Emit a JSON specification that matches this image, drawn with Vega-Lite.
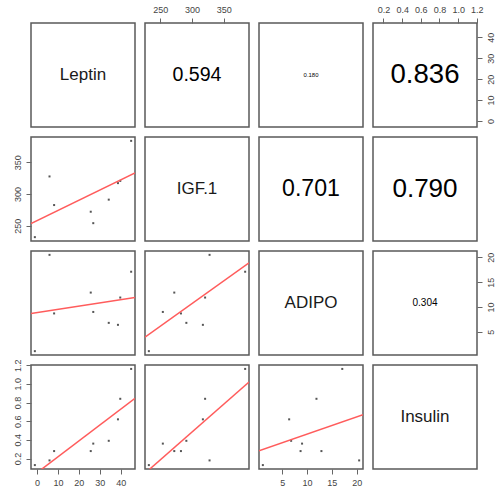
{
  "$schema": "https://vega.github.io/schema/vega-lite/v6.json",
  "padding": {"left": 12, "top": 4, "right": 5, "bottom": 5},
  "background": "white",
  "datasets": {
    "d": [
      {"Leptin": -1, "IGF": 232, "ADIPO": 1.1, "Insulin": 0.13},
      {"Leptin": 6, "IGF": 327.5, "ADIPO": 20.5, "Insulin": 0.18},
      {"Leptin": 8.2, "IGF": 282.5, "ADIPO": 8.7, "Insulin": 0.28},
      {"Leptin": 25.7, "IGF": 272, "ADIPO": 12.9, "Insulin": 0.28},
      {"Leptin": 26.9, "IGF": 254, "ADIPO": 9.0, "Insulin": 0.36},
      {"Leptin": 34.3, "IGF": 291, "ADIPO": 6.8, "Insulin": 0.39},
      {"Leptin": 38.7, "IGF": 317, "ADIPO": 6.4, "Insulin": 0.62},
      {"Leptin": 39.8, "IGF": 320.5, "ADIPO": 11.9, "Insulin": 0.84},
      {"Leptin": 45, "IGF": 383.5, "ADIPO": 17.1, "Insulin": 1.16}
    ]
  },
  "columns": 4,
  "spacing": 10,
  "bounds": "flush",
  "concat": [
    {"width": 104, "height": 104, "layer": [
      {"data": {"name": "d"}, "mark": {"type": "point", "opacity": 0},
       "encoding": {"x": {"field": "Leptin", "type": "quantitative", "axis": null}}},
      {"data": {"values": [{"v": "Leptin"}]},
       "mark": {"type": "text", "fontSize": 17, "font": "Liberation Sans", "color": "#1a1a1a"},
       "encoding": {"text": {"field": "v", "type": "nominal"}}}
    ]},
    {"width": 104, "height": 104, "layer": [
      {"data": {"name": "d"}, "mark": {"type": "point", "opacity": 0},
       "encoding": {"x": {"field": "IGF", "type": "quantitative", "scale": {"domain": [225.94, 389.56], "nice": false, "zero": false}, "axis": {"orient": "top", "values": [250, 300, 350]}}}},
      {"data": {"values": [{"r": 0.594}]}, "mark": {"type": "text", "font": "Liberation Sans", "color": "#000"},
       "encoding": {"text": {"field": "r", "type": "quantitative", "format": ".3f"}, "size": {"field": "r", "type": "quantitative", "scale": {"domain": [0, 1], "range": [0, 33]}, "legend": null}}}
    ]},
    {"width": 104, "height": 104, "layer": [
      {"data": {"name": "d"}, "mark": {"type": "point", "opacity": 0},
       "encoding": {"x": {"field": "ADIPO", "type": "quantitative", "axis": null}}},
      {"data": {"values": [{"r": 0.18}]}, "mark": {"type": "text", "font": "Liberation Sans", "color": "#000"},
       "encoding": {"text": {"field": "r", "type": "quantitative", "format": ".3f"}, "size": {"field": "r", "type": "quantitative", "scale": {"domain": [0, 1], "range": [0, 33]}, "legend": null}}}
    ]},
    {"width": 104, "height": 104, "layer": [
      {"data": {"name": "d"}, "mark": {"type": "point", "opacity": 0},
       "encoding": {
         "x": {"field": "Insulin", "type": "quantitative", "scale": {"domain": [0.088, 1.202], "nice": false, "zero": false}, "axis": {"orient": "top", "values": [0.2, 0.4, 0.6, 0.8, 1.0, 1.2], "format": ".1f"}},
         "y": {"field": "Leptin", "type": "quantitative", "scale": {"domain": [-2.84, 46.84], "nice": false, "zero": false}, "axis": {"orient": "right", "values": [0, 10, 20, 30, 40], "labelAngle": -90}}}},
      {"data": {"values": [{"r": 0.836}]}, "mark": {"type": "text", "font": "Liberation Sans", "color": "#000"},
       "encoding": {"text": {"field": "r", "type": "quantitative", "format": ".3f"}, "size": {"field": "r", "type": "quantitative", "scale": {"domain": [0, 1], "range": [0, 33]}, "legend": null}}}
    ]},

    {"width": 104, "height": 104, "data": {"name": "d"}, "layer": [
      {"mark": {"type": "point", "filled": true, "shape": "square", "size": 4, "color": "#555", "opacity": 1},
       "encoding": {
         "x": {"field": "Leptin", "type": "quantitative", "scale": {"domain": [-2.84, 46.84], "nice": false, "zero": false}, "axis": null},
         "y": {"field": "IGF", "type": "quantitative", "scale": {"domain": [225.94, 389.56], "nice": false, "zero": false}, "axis": {"orient": "left", "values": [250, 300, 350], "labelAngle": -90}}}},
      {"transform": [{"regression": "IGF", "on": "Leptin", "extent": [-2.84, 46.84]}],
       "mark": {"type": "line", "color": "#ff5c5c", "strokeWidth": 1.5, "clip": true},
       "encoding": {"x": {"field": "Leptin", "type": "quantitative", "axis": null}, "y": {"field": "IGF", "type": "quantitative", "axis": {"orient": "left", "values": [250, 300, 350], "labelAngle": -90}}}}
    ]},
    {"width": 104, "height": 104, "layer": [
      {"data": {"name": "d"}, "mark": {"type": "point", "opacity": 0},
       "encoding": {"x": {"field": "IGF", "type": "quantitative", "axis": null}}},
      {"data": {"values": [{"v": "IGF.1"}]},
       "mark": {"type": "text", "fontSize": 17, "font": "Liberation Sans", "color": "#1a1a1a"},
       "encoding": {"text": {"field": "v", "type": "nominal"}}}
    ]},
    {"width": 104, "height": 104, "layer": [
      {"data": {"name": "d"}, "mark": {"type": "point", "opacity": 0},
       "encoding": {"x": {"field": "ADIPO", "type": "quantitative", "axis": null}}},
      {"data": {"values": [{"r": 0.701}]}, "mark": {"type": "text", "font": "Liberation Sans", "color": "#000"},
       "encoding": {"text": {"field": "r", "type": "quantitative", "format": ".3f"}, "size": {"field": "r", "type": "quantitative", "scale": {"domain": [0, 1], "range": [0, 33]}, "legend": null}}}
    ]},
    {"width": 104, "height": 104, "layer": [
      {"data": {"name": "d"}, "mark": {"type": "point", "opacity": 0},
       "encoding": {"x": {"field": "Insulin", "type": "quantitative", "axis": null}}},
      {"data": {"values": [{"r": 0.79}]}, "mark": {"type": "text", "font": "Liberation Sans", "color": "#000"},
       "encoding": {"text": {"field": "r", "type": "quantitative", "format": ".3f"}, "size": {"field": "r", "type": "quantitative", "scale": {"domain": [0, 1], "range": [0, 33]}, "legend": null}}}
    ]},

    {"width": 104, "height": 104, "data": {"name": "d"}, "layer": [
      {"mark": {"type": "point", "filled": true, "shape": "square", "size": 4, "color": "#555", "opacity": 1},
       "encoding": {
         "x": {"field": "Leptin", "type": "quantitative", "scale": {"domain": [-2.84, 46.84], "nice": false, "zero": false}, "axis": null},
         "y": {"field": "ADIPO", "type": "quantitative", "scale": {"domain": [0.324, 21.276], "nice": false, "zero": false}, "axis": null}}},
      {"transform": [{"regression": "ADIPO", "on": "Leptin", "extent": [-2.84, 46.84]}],
       "mark": {"type": "line", "color": "#ff5c5c", "strokeWidth": 1.5, "clip": true},
       "encoding": {"x": {"field": "Leptin", "type": "quantitative", "axis": null}, "y": {"field": "ADIPO", "type": "quantitative", "axis": null}}}
    ]},
    {"width": 104, "height": 104, "data": {"name": "d"}, "layer": [
      {"mark": {"type": "point", "filled": true, "shape": "square", "size": 4, "color": "#555", "opacity": 1},
       "encoding": {
         "x": {"field": "IGF", "type": "quantitative", "scale": {"domain": [225.94, 389.56], "nice": false, "zero": false}, "axis": null},
         "y": {"field": "ADIPO", "type": "quantitative", "scale": {"domain": [0.324, 21.276], "nice": false, "zero": false}, "axis": null}}},
      {"transform": [{"regression": "ADIPO", "on": "IGF", "extent": [225.94, 389.56]}],
       "mark": {"type": "line", "color": "#ff5c5c", "strokeWidth": 1.5, "clip": true},
       "encoding": {"x": {"field": "IGF", "type": "quantitative", "axis": null}, "y": {"field": "ADIPO", "type": "quantitative", "axis": null}}}
    ]},
    {"width": 104, "height": 104, "layer": [
      {"data": {"name": "d"}, "mark": {"type": "point", "opacity": 0},
       "encoding": {"x": {"field": "ADIPO", "type": "quantitative", "axis": null}}},
      {"data": {"values": [{"v": "ADIPO"}]},
       "mark": {"type": "text", "fontSize": 17, "font": "Liberation Sans", "color": "#1a1a1a"},
       "encoding": {"text": {"field": "v", "type": "nominal"}}}
    ]},
    {"width": 104, "height": 104, "layer": [
      {"data": {"name": "d"}, "mark": {"type": "point", "opacity": 0},
       "encoding": {"y": {"field": "ADIPO", "type": "quantitative", "scale": {"domain": [0.324, 21.276], "nice": false, "zero": false}, "axis": {"orient": "right", "values": [5, 10, 15, 20], "labelAngle": -90}}}},
      {"data": {"values": [{"r": 0.304}]}, "mark": {"type": "text", "font": "Liberation Sans", "color": "#000"},
       "encoding": {"text": {"field": "r", "type": "quantitative", "format": ".3f"}, "size": {"field": "r", "type": "quantitative", "scale": {"domain": [0, 1], "range": [0, 33]}, "legend": null}}}
    ]},

    {"width": 104, "height": 104, "data": {"name": "d"}, "layer": [
      {"mark": {"type": "point", "filled": true, "shape": "square", "size": 4, "color": "#555", "opacity": 1},
       "encoding": {
         "x": {"field": "Leptin", "type": "quantitative", "scale": {"domain": [-2.84, 46.84], "nice": false, "zero": false}, "axis": {"orient": "bottom", "values": [0, 10, 20, 30, 40]}},
         "y": {"field": "Insulin", "type": "quantitative", "scale": {"domain": [0.088, 1.202], "nice": false, "zero": false}, "axis": {"orient": "left", "values": [0.2, 0.4, 0.6, 0.8, 1.0, 1.2], "format": ".1f", "labelAngle": -90}}}},
      {"transform": [{"regression": "Insulin", "on": "Leptin", "extent": [-2.84, 46.84]}],
       "mark": {"type": "line", "color": "#ff5c5c", "strokeWidth": 1.5, "clip": true},
       "encoding": {"x": {"field": "Leptin", "type": "quantitative", "axis": {"orient": "bottom", "values": [0, 10, 20, 30, 40]}}, "y": {"field": "Insulin", "type": "quantitative", "axis": {"orient": "left", "values": [0.2, 0.4, 0.6, 0.8, 1.0, 1.2], "format": ".1f", "labelAngle": -90}}}}
    ]},
    {"width": 104, "height": 104, "data": {"name": "d"}, "layer": [
      {"mark": {"type": "point", "filled": true, "shape": "square", "size": 4, "color": "#555", "opacity": 1},
       "encoding": {
         "x": {"field": "IGF", "type": "quantitative", "scale": {"domain": [225.94, 389.56], "nice": false, "zero": false}, "axis": null},
         "y": {"field": "Insulin", "type": "quantitative", "scale": {"domain": [0.088, 1.202], "nice": false, "zero": false}, "axis": null}}},
      {"transform": [{"regression": "Insulin", "on": "IGF", "extent": [225.94, 389.56]}],
       "mark": {"type": "line", "color": "#ff5c5c", "strokeWidth": 1.5, "clip": true},
       "encoding": {"x": {"field": "IGF", "type": "quantitative", "axis": null}, "y": {"field": "Insulin", "type": "quantitative", "axis": null}}}
    ]},
    {"width": 104, "height": 104, "data": {"name": "d"}, "layer": [
      {"mark": {"type": "point", "filled": true, "shape": "square", "size": 4, "color": "#555", "opacity": 1},
       "encoding": {
         "x": {"field": "ADIPO", "type": "quantitative", "scale": {"domain": [0.324, 21.276], "nice": false, "zero": false}, "axis": {"orient": "bottom", "values": [5, 10, 15, 20]}},
         "y": {"field": "Insulin", "type": "quantitative", "scale": {"domain": [0.088, 1.202], "nice": false, "zero": false}, "axis": null}}},
      {"transform": [{"regression": "Insulin", "on": "ADIPO", "extent": [0.324, 21.276]}],
       "mark": {"type": "line", "color": "#ff5c5c", "strokeWidth": 1.5, "clip": true},
       "encoding": {"x": {"field": "ADIPO", "type": "quantitative", "axis": {"orient": "bottom", "values": [5, 10, 15, 20]}}, "y": {"field": "Insulin", "type": "quantitative", "axis": null}}}
    ]},
    {"width": 104, "height": 104, "layer": [
      {"data": {"name": "d"}, "mark": {"type": "point", "opacity": 0},
       "encoding": {"x": {"field": "Insulin", "type": "quantitative", "axis": null}}},
      {"data": {"values": [{"v": "Insulin"}]},
       "mark": {"type": "text", "fontSize": 17, "font": "Liberation Sans", "color": "#1a1a1a"},
       "encoding": {"text": {"field": "v", "type": "nominal"}}}
    ]}
  ],
  "config": {
    "view": {"stroke": "#5a5a5a", "strokeWidth": 1.5},
    "axis": {"domain": false, "grid": false, "title": null, "tickSize": 5, "tickColor": "#666", "labelFontSize": 9, "labelFont": "Liberation Sans", "labelColor": "#444", "labelPadding": 4, "labelOverlap": false, "labelFlush": false}
  }
}
